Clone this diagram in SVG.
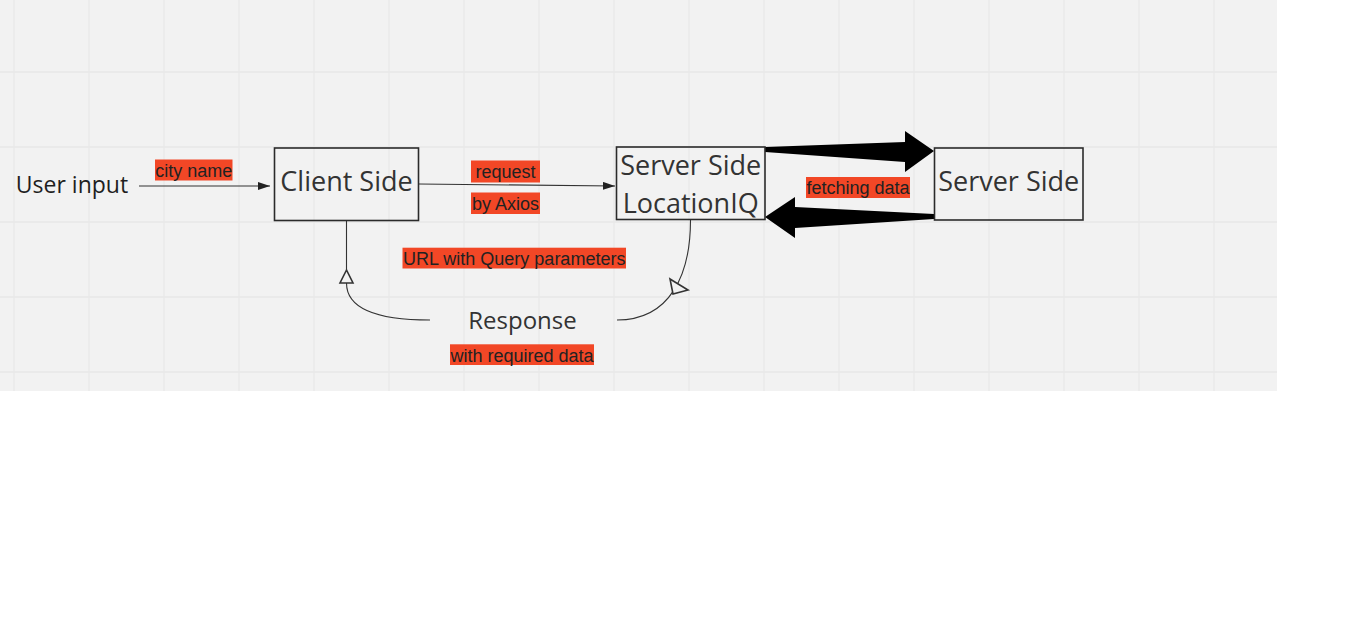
<svg xmlns="http://www.w3.org/2000/svg" width="1360" height="622" viewBox="0 0 1360 622">
<defs>
<style>
.grid{stroke:#e8e8e8;stroke-width:1.3}
.box{fill:none;stroke:#2b2b2b;stroke-width:1.6}
.ntext{font-family:"Open Sans","Noto Sans",sans-serif;font-size:27px;fill:#333;text-anchor:middle}
.hl{fill:#f24726}
.lbl{font-family:"Liberation Sans",Arial,sans-serif;font-size:18px;fill:#222;text-anchor:middle}
.conn{fill:none;stroke:#333;stroke-width:1.1}
.open{fill:#f2f2f2;stroke:#333;stroke-width:1.6}
</style>
<marker id="fa" viewBox="0 0 12 8" refX="12" refY="4" markerWidth="12" markerHeight="8" markerUnits="userSpaceOnUse" orient="auto">
<path d="M0,0 L12,4 L0,8 Z" fill="#222"/>
</marker>
</defs>
<rect width="1360" height="622" fill="#ffffff"/>
<rect x="0" y="0" width="1277" height="391" fill="#f2f2f2"/>
<g id="grid">
<path class="grid" d="M14,0V391M89,0V391M164,0V391M239,0V391M314,0V391M389,0V391M464,0V391M539,0V391M614,0V391M689,0V391M764,0V391M839,0V391M914,0V391M989,0V391M1064,0V391M1139,0V391M1214,0V391M0,72H1277M0,147H1277M0,222H1277M0,297H1277M0,372H1277"/>
</g>
<g id="connectors">
<line class="conn" x1="139" y1="186" x2="270" y2="186" marker-end="url(#fa)"/>
<line class="conn" x1="419" y1="184" x2="615" y2="186" marker-end="url(#fa)"/>
<path class="conn" d="M346.5,221 V270 M346.5,283 C346.5,305 370,320 430,320"/>
<path class="open" d="M346.5,270 L340,283 L353,283 Z"/>
<path class="conn" d="M690.5,220 C690.5,275 670,320 617,320"/>
<path class="open" d="M670,279 L688,290 L673,294 Z"/>
<path d="M765,147 L905,142 L905,131 L934,151 L905,172 L905,162 L765,152 Z" fill="#000"/>
<path d="M934,214 L795,207 L795,197 L765,217 L795,238 L795,228 L934,219 Z" fill="#000"/>
<rect class="hl" x="155" y="159.5" width="77.5" height="21"/>
<text class="lbl" x="193.7" y="176.5">city name</text>
<rect class="hl" x="471" y="160.5" width="69" height="22"/>
<text class="lbl" x="505.5" y="178">request</text>
<rect class="hl" x="471" y="192.5" width="69" height="21.5"/>
<text class="lbl" x="505.5" y="210">by Axios</text>
<rect class="hl" x="806" y="177" width="104" height="21"/>
<text class="lbl" x="858" y="194">fetching data</text>
<rect class="hl" x="402.5" y="247.7" width="223.5" height="20.8"/>
<text class="lbl" x="514.2" y="265">URL with Query parameters</text>
<rect class="hl" x="450" y="344.3" width="144" height="20.7"/>
<text class="lbl" x="522" y="361.5">with required data</text>
</g>
<g id="user-input">
<text x="72" y="193" style="font-family:'Open Sans','Noto Sans',sans-serif;font-size:23px;fill:#1f1f1f;text-anchor:middle">User input</text>
</g>
<g id="client-side">
<rect class="box" x="274.5" y="148" width="144" height="72.5"/>
<text class="ntext" x="346.5" y="191">Client Side</text>
</g>
<g id="server-locationiq">
<rect class="box" x="616.5" y="147" width="148.5" height="72.5"/>
<text class="ntext" x="690.7" y="175">Server Side</text>
<text class="ntext" x="690.7" y="212.5">LocationIQ</text>
</g>
<g id="server-side">
<rect class="box" x="934.5" y="148" width="148.5" height="72"/>
<text class="ntext" x="1008.7" y="191">Server Side</text>
</g>
<g id="response">
<text x="522.5" y="329" style="font-family:'Open Sans','Noto Sans',sans-serif;font-size:24px;fill:#333;text-anchor:middle">Response</text>
</g>
</svg>
